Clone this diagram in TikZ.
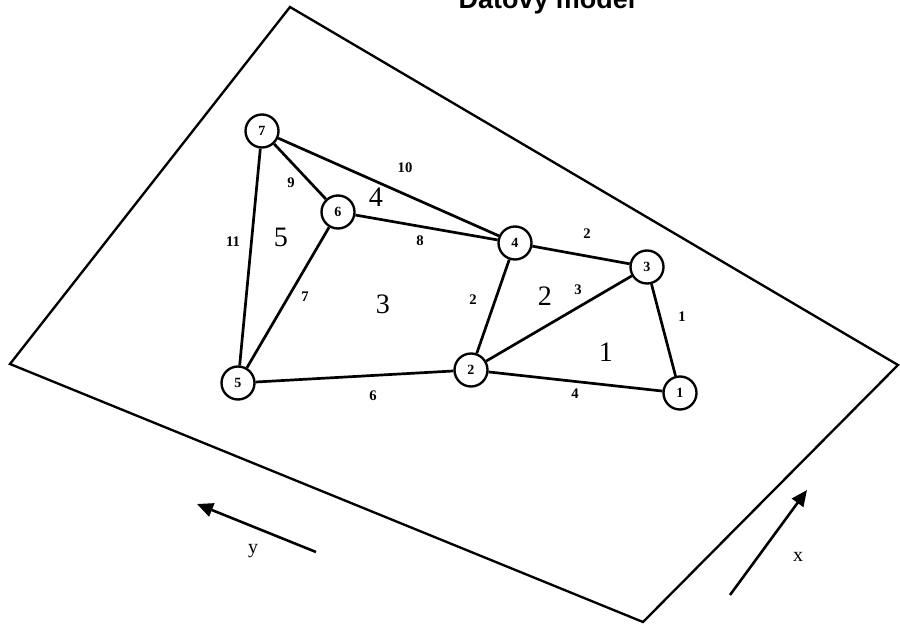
\documentclass[tikz,border=0pt]{standalone}
\usepackage{fontspec}
\setmainfont{Liberation Serif}
\newfontfamily\titlefont{Liberation Sans}
\usetikzlibrary{arrows.meta}
\begin{document}
\begin{tikzpicture}[x=0.03cm,y=-0.03cm,
  vert/.style={circle,draw,line width=2pt,minimum size=33*0.03cm,inner sep=0pt,fill=white,font=\fontsize{12}{12}\selectfont\bfseries},
  edge/.style={line width=2.3pt},
  elab/.style={font=\fontsize{12.5}{12.5}\selectfont\bfseries,inner sep=0pt},
  flab/.style={font=\fontsize{24}{24}\selectfont,inner sep=0pt},
  axis/.style={line width=2.2pt,-{Triangle[length=16*0.03cm,width=14*0.03cm]}},
  alab/.style={font=\fontsize{17}{17}\selectfont,inner sep=0pt}]
\useasboundingbox (0,0) rectangle (900,628);
\clip (0,0) rectangle (900,628);
% title (cut off at top, as in the reference)
\node[anchor=base,inner sep=0pt,font=\titlefont\fontsize{23}{23}\selectfont\bfseries] (title) at (547,9) {Datový model};
% plane
\draw[line width=2pt,line join=miter] (290,7) -- (898,365) -- (643,622) -- (10,364) -- cycle;
% vertices
\node[vert] (n7) at (262,131) {7};
\node[vert] (n6) at (338,212) {6};
\node[vert] (n4) at (515,243) {4};
\node[vert] (n3) at (647,267) {3};
\node[vert] (n2) at (471,370) {2};
\node[vert] (n1) at (680,393) {1};
\node[vert] (n5) at (238,383) {5};
% edges
\draw[edge] (n7) -- (n4);
\draw[edge] (n7) -- (n6);
\draw[edge] (n7) -- (n5);
\draw[edge] (n6) -- (n4);
\draw[edge] (n6) -- (n5);
\draw[edge] (n4) -- (n3);
\draw[edge] (n4) -- (n2);
\draw[edge] (n3) -- (n2);
\draw[edge] (n3) -- (n1);
\draw[edge] (n5) -- (n2);
\draw[edge] (n2) -- (n1);
% edge labels
\node[elab] (e10) at (405,168) {10};
\node[elab] (e9) at (291,183) {9};
\node[elab] (e11) at (233,242) {11};
\node[elab] (e8) at (420,241) {8};
\node[elab] (e7) at (305,297) {7};
\node[elab] (e2a) at (587,234) {2};
\node[elab] (e2b) at (473,300) {2};
\node[elab] (e3) at (578,290) {3};
\node[elab] (e1) at (682,317) {1};
\node[elab] (e6) at (373,396) {6};
\node[elab] (e4) at (575,394) {4};
% face labels
\node[flab] (f4) at (376,197) {4};
\node[flab] (f5) at (281,237) {5};
\node[flab] (f3) at (383,304) {3};
\node[flab] (f2) at (545,296) {2};
\node[flab] (f1) at (606,352) {1};
% axes
\coordinate (ys) at (316,552);
\coordinate (ye) at (197,504);
\draw[axis] (ys) -- (ye);
\coordinate (xs) at (730,595);
\coordinate (xe) at (807,490);
\draw[axis] (xs) -- (xe);
\node[alab] (ylab) at (253,551) {y};
\node[alab] (xlab) at (798,557) {x};
\end{tikzpicture}
\end{document}
